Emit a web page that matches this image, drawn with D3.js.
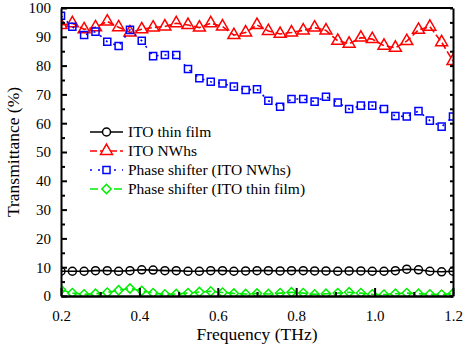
<!DOCTYPE html>
<html>
<head>
<meta charset="utf-8">
<script src="https://cdn.jsdelivr.net/npm/d3@7"></script>
<style>
  body { margin: 0; background: #fff; }
  text { font-family: 'Liberation Serif', 'Times New Roman', serif; fill: #000; }
</style>
</head>
<body>
<div id="chart"></div>
<script>
// frequency points (THz)
const freq = [0.200, 0.229, 0.259, 0.288, 0.318, 0.347, 0.376, 0.406, 0.435, 0.465,
  0.494, 0.524, 0.553, 0.582, 0.612, 0.641, 0.671, 0.700, 0.729, 0.759,
  0.788, 0.818, 0.847, 0.876, 0.906, 0.935, 0.965, 0.994, 1.024, 1.053,
  1.082, 1.112, 1.141, 1.171, 1.200];

const itoThinFilm = [8.6, 8.6, 8.6, 8.8, 8.8, 8.6, 8.8, 9.1, 9.0, 8.8,
  8.8, 8.6, 8.6, 8.8, 8.8, 8.6, 8.7, 8.8, 8.8, 8.7,
  8.8, 8.8, 8.7, 8.7, 8.6, 8.7, 8.7, 8.6, 8.6, 8.8,
  9.3, 9.1, 8.6, 8.4, 8.6];

const itoNWhs = [94.1, 94.7, 92.6, 93.3, 95.3, 93.3, 91.5, 92.6, 93.2, 93.6,
  94.7, 94.1, 93.2, 94.7, 93.6, 90.6, 91.5, 94.1, 92.0, 91.0,
  91.5, 92.2, 93.2, 92.2, 88.6, 87.6, 89.7, 89.2, 86.9, 86.2,
  88.5, 92.4, 93.5, 88.1, 81.6];

const phaseNWhs = [97.3, 93.5, 90.6, 91.8, 88.3, 86.8, 92.4, 88.6, 83.3, 83.7,
  83.7, 78.8, 75.6, 74.4, 73.8, 72.7, 71.5, 71.8, 67.8, 65.7,
  68.4, 68.4, 67.5, 69.2, 67.2, 64.9, 66.1, 66.1, 64.9, 62.5,
  62.3, 64.2, 60.9, 58.8, 62.3];

const phaseThinFilm = [2.2, 1.0, 0.6, 0.8, 1.2, 2.0, 2.6, 1.8, 1.0, 0.6,
  0.7, 1.0, 1.4, 1.6, 1.2, 0.9, 0.7, 0.9, 0.7, 1.0,
  1.3, 1.0, 0.6, 0.8, 1.0, 1.3, 1.0, 0.6, 0.5, 0.8,
  1.0, 0.8, 0.6, 0.5, 0.9];

const xTicks = [0.2, 0.4, 0.6, 0.8, 1.0, 1.2];
const yTicks = [0, 10, 20, 30, 40, 50, 60, 70, 80, 90, 100];

const series = [
  { name: 'ITO thin film', values: itoThinFilm, color: '#000', dash: null, marker: 'circle' },
  { name: 'ITO NWhs', values: itoNWhs, color: '#ff0000', dash: '7,3', marker: 'triangle' },
  { name: 'Phase shifter (ITO NWhs)', values: phaseNWhs, color: '#0000ff', dash: '2,6', marker: 'square' },
  { name: 'Phase shifter (ITO thin film)', values: phaseThinFilm, color: '#00ee00', dash: '8,4', marker: 'diamond' }
];

const W = 467, H = 349;
const MARGIN = { top: 8, right: 14, bottom: 53, left: 61 };
const iw = W - MARGIN.left - MARGIN.right;
const ih = H - MARGIN.top - MARGIN.bottom;

const svg = d3.select('#chart').append('svg').attr('width', W).attr('height', H);
const g = svg.append('g').attr('transform', 'translate(' + MARGIN.left + ',' + MARGIN.top + ')');

const x = d3.scaleLinear().domain([0.2, 1.2]).range([0, iw]);
const y = d3.scaleLinear().domain([0, 100]).range([ih, 0]);

g.append('clipPath').attr('id', 'clip')
  .append('rect').attr('x', 0).attr('y', -6).attr('width', iw).attr('height', ih + 6);

// marker shapes; the diamond is a square turned by 45 degrees
const symbols = {
  circle: { path: d3.symbol(d3.symbolCircle, 50)(), rot: 0 },
  triangle: { path: d3.symbol(d3.symbolTriangle, 62)(), rot: 0 },
  square: { path: d3.symbol(d3.symbolSquare, 50)(), rot: 0 },
  diamond: { path: d3.symbol(d3.symbolSquare, 42)(), rot: 45 }
};

function drawSeries(sel, s, pts) {
  const line = d3.line().x((d) => x(d[0])).y((d) => y(d[1]));
  sel.append('path')
    .attr('d', line(pts))
    .attr('fill', 'none')
    .attr('stroke', s.color)
    .attr('stroke-width', 1.6)
    .attr('stroke-dasharray', s.dash);
  const sym = symbols[s.marker];
  sel.selectAll('path.mark')
    .data(pts)
    .join('path')
    .attr('class', 'mark')
    .attr('d', sym.path)
    .attr('transform', (d) => 'translate(' + x(d[0]) + ',' + y(d[1]) + ') rotate(' + sym.rot + ')')
    .attr('fill', 'none')
    .attr('stroke', s.color)
    .attr('stroke-width', 1.5);
}

const gData = g.append('g').attr('clip-path', 'url(#clip)');
series.forEach((s) => {
  const pts = freq.map((f, i) => [f, s.values[i]]);
  drawSeries(gData.append('g'), s, pts);
});

// axes with inward ticks
const xMinor = [0.3, 0.5, 0.7, 0.9, 1.1];
const yMinor = [5, 15, 25, 35, 45, 55, 65, 75, 85, 95];

g.append('g').attr('transform', 'translate(0,' + ih + ')')
  .call(d3.axisBottom(x).tickValues(xTicks).tickFormat(d3.format('.1f')).tickSizeInner(-8).tickSizeOuter(0).tickPadding(14))
  .call((a) => a.select('.domain').attr('stroke-width', 2.5))
  .call((a) => a.selectAll('.tick line').attr('stroke-width', 2))
  .call((a) => a.selectAll('text').attr('font-size', 15));
g.append('g').attr('transform', 'translate(0,' + ih + ')')
  .call(d3.axisBottom(x).tickValues(xMinor).tickFormat('').tickSizeInner(-4).tickSizeOuter(0))
  .call((a) => a.select('.domain').remove())
  .call((a) => a.selectAll('.tick line').attr('stroke-width', 2));

g.append('g')
  .call(d3.axisLeft(y).tickValues(yTicks).tickSizeInner(-6).tickSizeOuter(0).tickPadding(10))
  .call((a) => a.select('.domain').attr('stroke-width', 2))
  .call((a) => a.selectAll('.tick line').attr('stroke-width', 2))
  .call((a) => a.selectAll('text').attr('font-size', 15));
g.append('g')
  .call(d3.axisLeft(y).tickValues(yMinor).tickFormat('').tickSizeInner(-4).tickSizeOuter(0))
  .call((a) => a.select('.domain').remove())
  .call((a) => a.selectAll('.tick line').attr('stroke-width', 2));

g.append('g').attr('transform', 'translate(' + iw + ',0)')
  .call(d3.axisRight(y).tickValues(yTicks.concat(yMinor)).tickFormat('').tickSizeInner(-3).tickSizeOuter(0))
  .call((a) => a.select('.domain').attr('stroke-width', 2))
  .call((a) => a.selectAll('.tick line').attr('stroke-width', 2));

g.append('line').attr('x1', 0).attr('x2', iw).attr('y1', 0).attr('y2', 0)
  .attr('stroke', '#000').attr('stroke-width', 2);

// axis titles
g.append('text')
  .attr('x', iw / 2).attr('y', ih + 44)
  .attr('text-anchor', 'middle').attr('font-size', 17.5)
  .text('Frequency (THz)');
g.append('text')
  .attr('transform', 'translate(' + (-42) + ',' + (ih / 2) + ') rotate(-90)')
  .attr('text-anchor', 'middle').attr('font-size', 17.5)
  .text('Transmittance (%)');

// legend
const gLegend = g.append('g').attr('transform', 'translate(' + (90 - MARGIN.left) + ',' + (132 - MARGIN.top) + ')');
series.forEach((s, i) => {
  const row = gLegend.append('g').attr('transform', 'translate(0,' + i * 19 + ')');
  const sym = symbols[s.marker];
  row.append('line').attr('x1', 0).attr('x2', 33).attr('y1', 0).attr('y2', 0)
    .attr('stroke', s.color).attr('stroke-width', 1.6).attr('stroke-dasharray', s.dash);
  row.append('path').attr('d', sym.path)
    .attr('transform', 'translate(16.5,0) rotate(' + sym.rot + ')')
    .attr('fill', '#fff').attr('stroke', s.color).attr('stroke-width', 1.5);
  row.append('text').attr('x', 38).attr('y', 5).attr('font-size', 15.5).text(s.name);
});
</script>
</body>
</html>
